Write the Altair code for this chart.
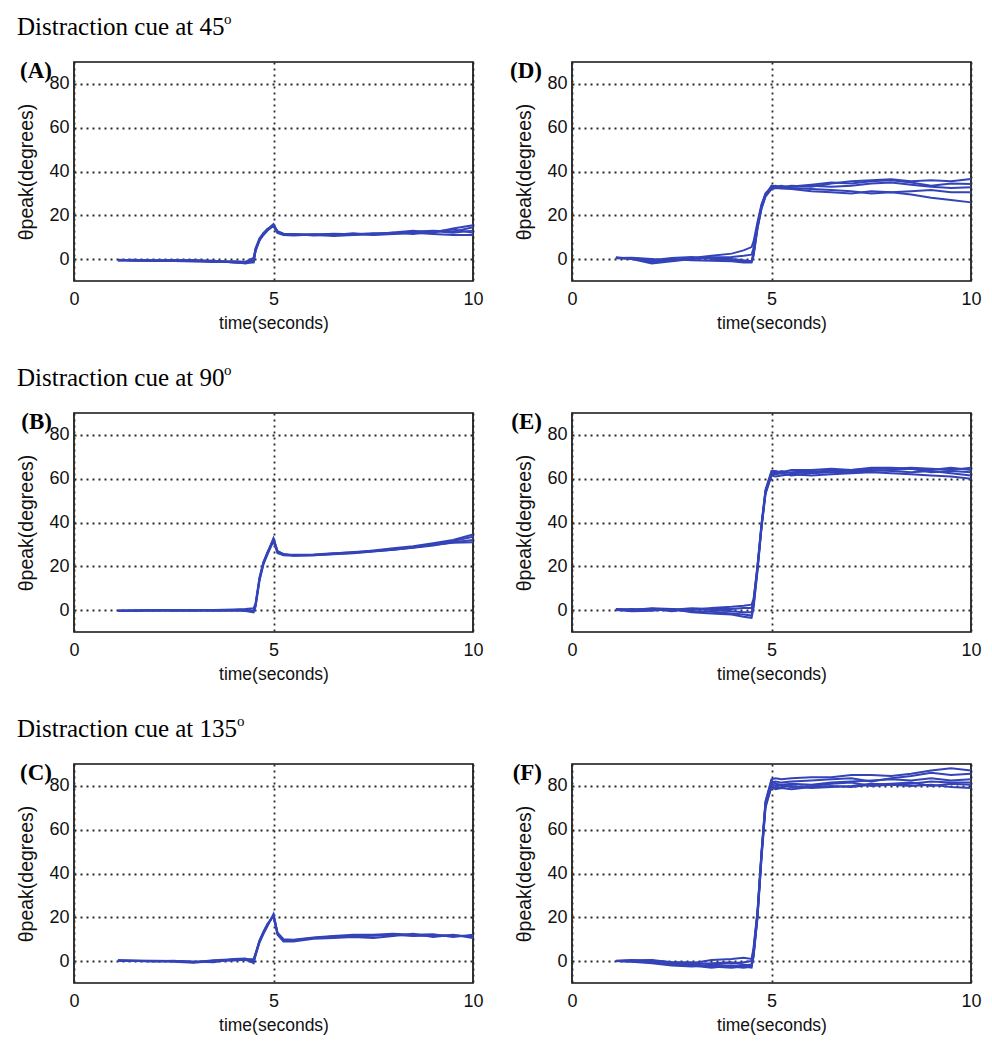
import altair as alt
import pandas as pd

# shared time grid (seconds)
T = [1.1, 1.5, 2.0, 2.5, 3.0, 3.5, 4.0, 4.3, 4.5, 4.55, 4.65, 4.75, 4.85, 5.0,
     5.1, 5.25, 5.5, 6.0, 6.5, 7.0, 7.5, 8.0, 8.5, 9.0, 9.5, 10.0]

# (A) distraction cue at 45 deg, first condition
A_trials = [
    [-0.5, -0.8, -0.6, -0.7, -0.4, -1.0, -1.2, -1.5, -1.0, 4.0, 9.0, 11.5, 13.5, 16.0, 12.5, 11.5, 11.2, 11.0, 11.3, 11.5, 11.2, 11.8, 12.5, 13.0, 12.5, 14.5],
    [-0.3, -0.5, -0.9, -0.4, -0.8, -0.7, -1.5, -1.8, -0.5, 5.0, 9.5, 12.0, 13.8, 15.0, 12.0, 11.0, 10.8, 11.2, 10.5, 11.0, 11.6, 12.0, 11.5, 12.5, 13.5, 12.0],
    [-0.6, -0.4, -0.7, -0.9, -1.1, -1.3, -1.0, -1.2, 0.5, 4.5, 8.5, 11.0, 13.0, 15.5, 12.2, 11.2, 11.5, 10.8, 11.0, 11.8, 11.0, 11.5, 12.0, 11.5, 11.0, 11.0],
    [-0.4, -0.6, -0.5, -0.6, -0.9, -0.8, -1.6, -1.4, -1.5, 3.5, 8.8, 11.8, 13.2, 15.2, 12.8, 11.6, 11.0, 11.3, 11.2, 11.2, 11.4, 12.2, 13.0, 12.0, 14.0, 15.5],
    [-0.5, -0.3, -0.8, -0.5, -0.6, -1.1, -1.3, -2.0, -1.2, 4.2, 9.2, 11.4, 13.6, 15.8, 12.4, 11.4, 11.3, 11.1, 11.6, 11.3, 11.8, 11.6, 12.2, 12.8, 12.0, 13.0],
]

# (B) distraction cue at 90 deg, first condition
B_trials = [
    [-0.3, -0.2, -0.1, -0.3, 0.0, -0.2, 0.0, 0.2, -0.5, 2.0, 14.0, 21.5, 26.0, 32.5, 27.0, 25.5, 25.0, 25.2, 25.8, 26.5, 27.0, 27.8, 28.8, 30.0, 31.5, 33.5],
    [-0.2, -0.4, 0.1, -0.2, -0.3, 0.1, 0.3, 0.5, 0.8, 3.0, 15.0, 22.0, 26.5, 32.0, 26.5, 25.0, 24.8, 25.0, 25.5, 26.0, 26.8, 27.5, 28.5, 29.5, 31.0, 32.0],
    [-0.4, -0.1, -0.3, 0.0, -0.1, -0.3, -0.2, -0.4, -1.0, 1.5, 13.5, 21.0, 25.5, 31.5, 26.0, 25.2, 25.3, 25.4, 26.0, 26.3, 27.2, 28.2, 29.2, 30.5, 32.0, 34.5],
    [-0.3, -0.3, 0.0, -0.1, -0.2, 0.0, -0.1, 0.0, -0.3, 2.5, 14.5, 21.8, 26.2, 32.8, 26.8, 25.6, 24.9, 25.1, 25.6, 26.2, 26.9, 27.6, 28.6, 29.8, 30.8, 31.0],
]

# (C) distraction cue at 135 deg, first condition
C_trials = [
    [0.3, 0.1, -0.2, 0.2, -0.5, 0.4, 0.8, 0.5, -0.5, 3.0, 9.0, 13.0, 16.5, 21.0, 12.5, 9.5, 9.3, 10.5, 11.0, 11.5, 11.8, 12.0, 11.5, 11.8, 11.5, 11.5],
    [0.2, 0.3, 0.0, -0.3, -0.8, 0.0, 0.5, 1.0, 0.8, 3.5, 9.5, 13.5, 17.0, 20.5, 12.0, 9.0, 9.0, 10.2, 10.5, 11.0, 10.5, 11.5, 12.5, 11.0, 12.0, 10.5],
    [0.4, 0.0, 0.2, 0.0, -0.2, -0.5, 1.0, 1.2, -1.0, 2.5, 8.5, 12.5, 16.0, 21.5, 13.0, 10.0, 9.8, 10.8, 11.5, 12.0, 12.0, 12.5, 12.0, 12.3, 11.0, 12.0],
    [0.3, 0.2, -0.1, 0.1, -0.4, 0.2, 0.3, 0.6, 0.2, 3.2, 9.2, 13.2, 16.8, 20.8, 12.8, 9.8, 9.5, 10.6, 11.2, 11.3, 11.6, 12.2, 11.8, 11.6, 11.8, 11.2],
]

# (D) distraction cue at 45 deg, second condition
D_trials = [
    [0.5, 0.3, -1.5, -0.5, 0.5, 1.5, 2.5, 4.0, 5.5, 8.0, 17.0, 25.0, 30.0, 33.0, 33.2, 32.8, 33.5, 33.0, 34.5, 35.5, 36.0, 36.5, 35.5, 36.0, 35.5, 36.6],
    [0.8, 0.0, -2.0, -1.0, 0.0, 0.5, 0.0, -0.5, -1.0, 3.0, 15.0, 24.0, 29.5, 32.5, 33.0, 33.5, 32.5, 32.0, 31.5, 31.0, 30.0, 30.5, 29.5, 28.0, 27.0, 25.9],
    [0.4, 0.5, -0.5, 0.5, 1.0, 0.2, -0.5, -1.0, -1.2, 2.0, 14.5, 23.5, 29.0, 33.5, 32.8, 33.0, 33.2, 34.0, 35.0, 34.5, 35.5, 36.0, 35.0, 33.5, 34.5, 34.3],
    [0.6, 0.2, -1.0, 0.0, -0.5, -0.8, -1.0, -1.5, -1.5, 1.5, 14.0, 23.0, 28.5, 32.0, 32.5, 32.2, 32.0, 31.0, 30.5, 30.0, 31.0, 30.5, 31.0, 31.5, 30.5, 30.5],
    [0.5, 0.6, 0.0, -0.8, 0.3, 0.8, 1.0, 1.5, 2.0, 5.0, 16.0, 24.5, 29.5, 33.2, 33.5, 32.5, 33.0, 33.5, 33.0, 33.5, 34.5, 35.0, 34.0, 33.0, 32.5, 32.8],
]

# (E) distraction cue at 90 deg, second condition
E_trials = [
    [0.3, 0.0, 0.8, 0.5, 0.0, 1.0, 1.5, 2.0, 2.5, 5.0, 20.0, 39.0, 54.0, 62.5, 63.0, 62.5, 63.0, 63.5, 63.0, 64.0, 64.5, 64.5, 65.0, 64.5, 64.0, 65.0],
    [0.0, -0.5, -0.3, 0.5, -1.0, -1.5, -2.0, -3.0, -3.5, 1.0, 18.0, 37.5, 53.0, 61.5, 61.0, 61.5, 62.0, 61.5, 62.0, 62.5, 63.0, 62.5, 62.0, 61.5, 61.0, 60.0],
    [0.5, 0.2, 0.5, -0.5, 0.5, 0.0, -0.5, -1.0, -1.0, 3.0, 19.5, 38.5, 54.5, 63.0, 62.5, 63.5, 62.5, 63.0, 64.0, 63.5, 63.5, 64.0, 64.5, 63.0, 63.5, 63.0],
    [0.2, 0.5, 0.0, 0.3, -0.5, -0.8, -1.5, -2.0, -2.5, 2.0, 19.0, 38.0, 53.5, 62.0, 62.0, 62.5, 61.5, 62.5, 63.0, 63.0, 64.0, 63.5, 63.0, 63.5, 62.5, 61.5],
    [0.4, -0.2, 0.6, 0.2, 0.8, 0.5, 0.5, 1.0, 1.0, 4.0, 20.5, 39.5, 55.0, 63.5, 63.5, 63.0, 64.0, 64.0, 64.5, 64.0, 65.0, 65.0, 64.5, 64.0, 65.0, 64.0],
]

# (F) distraction cue at 135 deg, second condition
F_trials = [
    [0.0, 0.3, 0.5, -0.5, -1.0, 0.5, 1.0, 1.5, 1.0, 6.0, 23.0, 50.0, 73.0, 83.0, 83.5, 83.0, 83.5, 84.0, 84.0, 85.0, 85.0, 84.5, 85.5, 87.0, 88.0, 87.0],
    [0.0, -0.3, -1.0, -2.0, -2.5, -2.0, -2.5, -3.0, -2.5, 2.0, 20.0, 47.0, 70.0, 80.0, 79.0, 79.5, 80.0, 79.0, 79.5, 80.0, 81.0, 80.5, 80.0, 80.5, 79.5, 79.0],
    [0.2, 0.0, 0.0, -1.0, -1.5, -1.0, -0.5, -1.5, -2.0, 4.0, 22.0, 49.0, 72.0, 81.5, 82.0, 81.5, 82.0, 82.5, 83.0, 83.5, 82.0, 83.5, 84.5, 86.0, 85.0, 85.5],
    [0.0, 0.2, -0.5, -1.5, -2.0, -3.0, -2.0, -2.0, -1.5, 3.0, 21.0, 48.0, 71.0, 79.5, 78.5, 79.0, 78.5, 79.5, 80.0, 79.5, 80.5, 81.0, 81.5, 80.0, 81.0, 80.5],
    [0.1, 0.5, 0.2, -0.5, -0.5, -1.5, -1.0, -0.5, 0.0, 5.0, 22.5, 49.5, 72.5, 82.5, 81.0, 80.5, 81.0, 80.5, 81.5, 82.0, 82.5, 83.0, 82.5, 83.5, 82.5, 83.0],
    [0.0, -0.2, 0.3, -1.0, -2.0, -2.5, -3.0, -2.5, -3.0, 2.5, 20.5, 48.5, 71.5, 81.0, 80.0, 80.5, 79.5, 80.0, 81.0, 81.5, 80.0, 80.5, 81.0, 82.0, 81.5, 81.5],
]

HEADERS = ["Distraction cue at 45", "Distraction cue at 90", "Distraction cue at 135"]
LETTERS_LEFT = ["A", "B", "C"]
LETTERS_RIGHT = ["D", "E", "F"]
X_TICKS = [0, 5, 10]
Y_TICKS = [0, 20, 40, 60, 80]

BLUE = "#3444b8"
W, H = 399, 219
SANS = "Liberation Sans, Arial, sans-serif"
SERIF = "Liberation Serif, Times New Roman, serif"


def panel(letter, trials, header=None):
    rows = []
    for i, tr in enumerate(trials):
        for t, v in zip(T, tr):
            rows.append({"t": t, "v": v, "trial": i})
    df = pd.DataFrame(rows)
    lines = alt.Chart(df).mark_line(color=BLUE, strokeWidth=2, interpolate="linear").encode(
        x=alt.X("t:Q", scale=alt.Scale(domain=[0, 10], nice=False, zero=False),
                axis=alt.Axis(values=X_TICKS, title="time(seconds)")),
        y=alt.Y("v:Q", scale=alt.Scale(domain=[-10, 90], nice=False, zero=False),
                axis=alt.Axis(values=Y_TICKS, title="θpeak(degrees)")),
        detail="trial:N",
    )
    left = letter in LETTERS_LEFT
    lab = alt.Chart(pd.DataFrame({"label": [f"({letter})"]})).mark_text(
        font=SERIF, fontSize=23, fontWeight="bold", align="right", baseline="middle", color="black"
    ).encode(x=alt.value(-22 if left else -30), y=alt.value(9), text="label:N")
    layers = [lines, lab]
    if header is not None:
        hdf = pd.DataFrame({"label": [header]})
        layers.append(alt.Chart(hdf).mark_text(
            font=SERIF, fontSize=25, align="left", baseline="middle", color="black"
        ).encode(x=alt.value(-57), y=alt.value(-35), text="label:N"))
        # superscript "o" after the header
        sup_x = -57 + (207 if header.endswith(("45", "90")) else 220)
        layers.append(alt.Chart(pd.DataFrame({"label": ["o"]})).mark_text(
            font=SERIF, fontSize=15, align="left", baseline="middle", color="black"
        ).encode(x=alt.value(sup_x), y=alt.value(-43), text="label:N"))
    return alt.layer(*layers).properties(width=W, height=H)


all_trials = {"A": A_trials, "B": B_trials, "C": C_trials,
              "D": D_trials, "E": E_trials, "F": F_trials}

cells = []
for i in range(3):
    l = LETTERS_LEFT[i]
    r = LETTERS_RIGHT[i]
    cells.append(panel(l, all_trials[l], HEADERS[i]))
    cells.append(panel(r, all_trials[r]))

chart = alt.concat(
    *cells, columns=2, spacing=alt.RowColnumber(row=132, column=99), bounds="flush"
).properties(
    padding={"left": 16, "top": 11, "right": 4, "bottom": 0},
    background="white",
).configure_view(
    stroke="#111", strokeWidth=1.7
).configure_axis(
    labelFont=SANS, labelFontSize=18, labelColor="#111",
    titleFont=SANS, titleFontSize=17.5, titleFontWeight="normal", titleColor="#111",
    grid=True, gridColor="#2a2a2a", gridDash=[2, 4], gridWidth=1.8, gridOpacity=1,
    ticks=False, domain=False, labelFlush=False,
).configure_axisX(
    labelPadding=9, titlePadding=6,
).configure_axisY(
    labelPadding=5, titlePadding=12, titleFontSize=19.5,
)

chart.save("out.html", embed_options={"renderer": "svg", "actions": False})
